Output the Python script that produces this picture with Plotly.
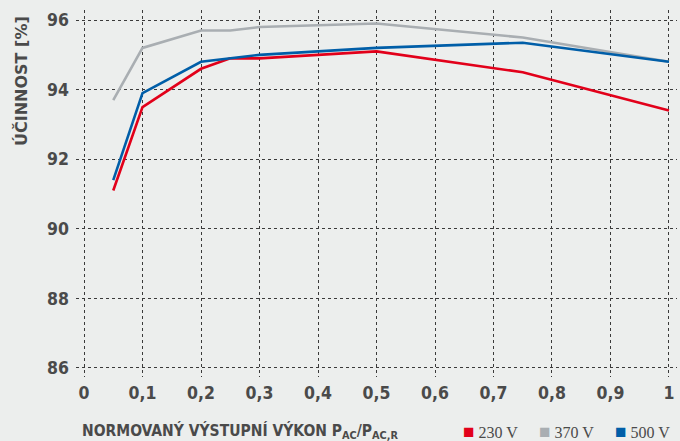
import plotly.graph_objects as go

x_load = [0.05, 0.1, 0.2, 0.25, 0.3, 0.5, 0.75, 1.0]
eff_230 = [91.1, 93.5, 94.6, 94.9, 94.9, 95.1, 94.5, 93.4]
eff_370 = [93.7, 95.2, 95.7, 95.7, 95.8, 95.9, 95.5, 94.8]
eff_500 = [91.4, 93.9, 94.8, 94.9, 95.0, 95.2, 95.35, 94.8]

series_names = ["230 V", "370 V", "500 V"]
series_colors = ["#e2001a", "#a9aeb2", "#005ea8"]

x_tickvals = [0, 0.1, 0.2, 0.3, 0.4, 0.5, 0.6, 0.7, 0.8, 0.9, 1]
x_ticktext = ["0", "0,1", "0,2", "0,3", "0,4", "0,5", "0,6", "0,7", "0,8", "0,9", "1"]
y_tickvals = [86, 88, 90, 92, 94, 96]

FONT = "DejaVu Sans Condensed, DejaVu Sans, sans-serif"
TXT = "#4a4a4a"
BG = "#eceeed"
GRID = "#3a3a3a"

fig = go.Figure()
for ys, name, col in [(eff_370, series_names[1], series_colors[1]),
                      (eff_230, series_names[0], series_colors[0]),
                      (eff_500, series_names[2], series_colors[2])]:
    fig.add_trace(go.Scatter(x=x_load, y=ys, mode="lines", name=name,
                             line=dict(color=col, width=2.6), showlegend=False))

W, H = 680, 441
ml, mr, mt, mb = 76, 3, 10, 64
pw = W - ml - mr
ph = H - mt - mb

fig.update_layout(
    width=W, height=H,
    margin=dict(l=ml, r=mr, t=mt, b=mb, autoexpand=False),
    paper_bgcolor=BG, plot_bgcolor=BG,
    font=dict(family=FONT, color=TXT, size=16),
    showlegend=False,
    xaxis=dict(range=[-0.0137, 1.0137], tickvals=x_tickvals, ticktext=x_ticktext,
               showgrid=True, gridcolor=GRID, griddash="dot", gridwidth=1.3,
               zeroline=False, showline=False, ticks="", ticklabelstandoff=3,
               automargin=False,
               tickfont=dict(family=FONT, size=17.5, color=TXT, weight="bold")),
    yaxis=dict(range=[85.74, 96.29], tickvals=y_tickvals,
               showgrid=True, gridcolor=GRID, griddash="dot", gridwidth=1.3,
               zeroline=False, showline=False, ticks="", ticklabelstandoff=6,
               automargin=False,
               tickfont=dict(family=FONT, size=17.5, color=TXT, weight="bold")),
)

def px2x(px):
    return (px - ml) / pw

def py2y(py):
    return (H - mb - py) / ph

fig.add_annotation(
    x=px2x(22), y=py2y(81), xref="paper", yref="paper",
    xanchor="center", yanchor="middle", showarrow=False, textangle=-90,
    text="<b>ÚČINNOST [%]</b>",
    font=dict(family="DejaVu Sans, sans-serif", size=16, color=TXT),
)

fig.add_annotation(
    x=px2x(80), y=py2y(431), xref="paper", yref="paper",
    xanchor="left", yanchor="middle", showarrow=False,
    text="<b>NORMOVANÝ VÝSTUPNÍ VÝKON P<sub>AC</sub>/P<sub>AC,R</sub></b>",
    font=dict(family=FONT, size=15.5, color=TXT),
)

leg_px = [461, 537, 613]
for px, name, col in zip(leg_px, series_names, series_colors):
    fig.add_annotation(
        x=px2x(px), y=py2y(432), xref="paper", yref="paper",
        xanchor="left", yanchor="middle", showarrow=False,
        text=f'<span style="color:{col};font-size:19px">■</span> {name}',
        font=dict(family="Liberation Serif, serif", size=16, color=TXT),
    )

fig.write_html("out.html", config={"displayModeBar": False},
               post_script="document.body.style.margin='0';document.body.style.background='#eceeed';")
